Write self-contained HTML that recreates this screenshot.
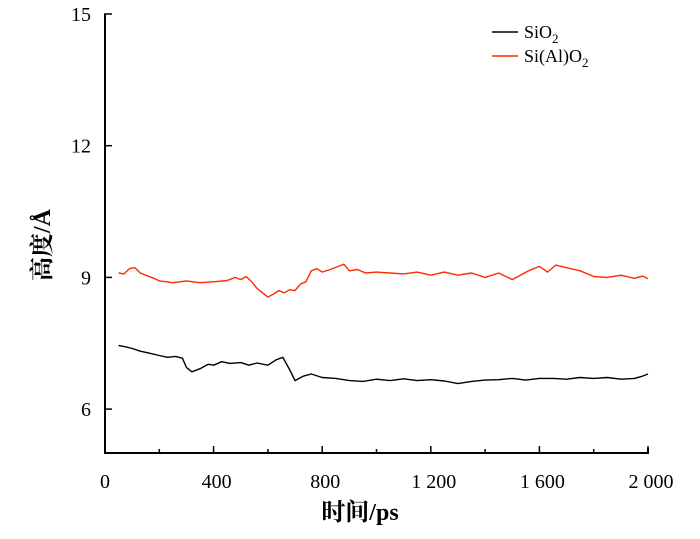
<!DOCTYPE html>
<html><head><meta charset="utf-8">
<style>
body{margin:0;background:#fff;}
svg text{font-family:"Liberation Serif","Noto Serif CJK SC",serif;fill:#000;}
</style></head>
<body>
<svg id="chart" width="700" height="534" xmlns="http://www.w3.org/2000/svg">
<g id="axes"></g>
<g id="series"></g>
<text x="360" y="520" font-size="24" font-weight="bold" text-anchor="middle">时间/ps</text>
<text transform="translate(50,245) rotate(-90)" font-size="24" font-weight="bold" text-anchor="middle">高度/Å</text>
<g>
<line x1="492" y1="32" x2="518" y2="32" stroke="#000" stroke-width="1.5"/>
<text x="524" y="38" font-size="18">SiO<tspan font-size="13" dy="5">2</tspan></text>
<line x1="492" y1="56" x2="518" y2="56" stroke="#ff2a00" stroke-width="1.5"/>
<text x="524" y="62" font-size="18">Si(Al)O<tspan font-size="13" dy="5">2</tspan></text>
</g>
</svg>
<script>
const xTicks=[0,400,800,1200,1600,2000];
const xTickLabels=["0","400","800","1 200","1 600","2 000"];
const yTicks=[6,9,12,15];
const yTickLabels=["6","9","12","15"];
const sio2T=[50,75,100,130,160,200,230,260,285,300,320,350,380,400,430,460,500,530,560,600,630,655,680,700,730,760,800,850,900,950,1000,1050,1100,1150,1200,1250,1300,1350,1400,1450,1500,1550,1600,1650,1700,1750,1800,1850,1900,1950,1975,2000];
const sio2V=[7.45,7.42,7.38,7.32,7.28,7.22,7.18,7.2,7.16,6.95,6.85,6.92,7.02,7.0,7.08,7.04,7.06,7.0,7.05,7.0,7.12,7.18,6.9,6.65,6.75,6.8,6.72,6.7,6.65,6.63,6.68,6.65,6.69,6.65,6.67,6.64,6.58,6.63,6.66,6.67,6.7,6.66,6.7,6.7,6.68,6.72,6.7,6.72,6.68,6.7,6.74,6.8];
const sialT=[50,70,90,110,130,150,180,200,250,300,350,400,450,480,500,520,540,560,580,600,620,640,660,680,700,720,740,760,780,800,830,860,880,900,930,960,1000,1050,1100,1150,1200,1250,1300,1350,1400,1450,1500,1530,1560,1600,1630,1660,1700,1750,1800,1850,1900,1950,1980,2000];
const sialV=[9.1,9.08,9.2,9.22,9.1,9.05,8.98,8.92,8.88,8.92,8.88,8.9,8.93,9.0,8.95,9.02,8.9,8.75,8.65,8.55,8.62,8.7,8.65,8.72,8.7,8.85,8.9,9.15,9.2,9.12,9.18,9.25,9.3,9.15,9.18,9.1,9.12,9.1,9.08,9.12,9.05,9.12,9.05,9.1,9.0,9.1,8.95,9.05,9.15,9.25,9.12,9.28,9.22,9.15,9.02,9.0,9.05,8.98,9.03,8.97];
const X0=105,X1=648,Y0=453,Y1=14;
function sx(t){return X0+(t-0)/(2000-0)*(X1-X0);}
function sy(v){return Y0-(v-5)/(15-5)*(Y0-Y1);}
const NS="http://www.w3.org/2000/svg";
const axes=document.getElementById('axes');
function mk(tag,attrs,parent){const e=document.createElementNS(NS,tag);for(const k in attrs)e.setAttribute(k,attrs[k]);parent.appendChild(e);return e;}
let a=mk('path',{d:`M${X0},${Y1} L${X0},${Y0} L${X1},${Y0} L${X1},${Y0-5}`,fill:'none',stroke:'#000','stroke-width':2},axes);


for(let i=0;i<=10;i++){const t=i*200;const len=(i%2===0)?7:4;
 const tk=mk('line',{x1:sx(t),x2:sx(t),y1:Y0,y2:Y0-len,stroke:'#000','stroke-width':1.5},axes);
 
 }
xTicks.forEach((t,i)=>{const tx=mk('text',{x:sx(t)+(i===0?0:3),y:Y0+35,'font-size':20,'text-anchor':'middle'},axes);tx.textContent=xTickLabels[i];
 
 });
yTicks.forEach((v,i)=>{
 const tk=mk('line',{x1:X0-1,x2:X0+7,y1:sy(v),y2:sy(v),stroke:'#000','stroke-width':1.5},axes);
 
 
 const tx=mk('text',{x:X0-14,y:sy(v)+7,'font-size':20,'text-anchor':'end'},axes);tx.textContent=yTickLabels[i];
 
 });
const ser=document.getElementById('series');
function line(T,V,color,name){const d=T.map((t,i)=>(i?'L':'M')+sx(t).toFixed(1)+','+sy(V[i]).toFixed(1)).join(' ');
 const p=mk('path',{d:d,fill:'none',stroke:color,'stroke-width':1.4,'stroke-linejoin':'round'},ser);
 
 }
line(sio2T,sio2V,'#000','sio2-line');
line(sialT,sialV,'#ff2a00','sialo2-line');
</script>
</body></html>
